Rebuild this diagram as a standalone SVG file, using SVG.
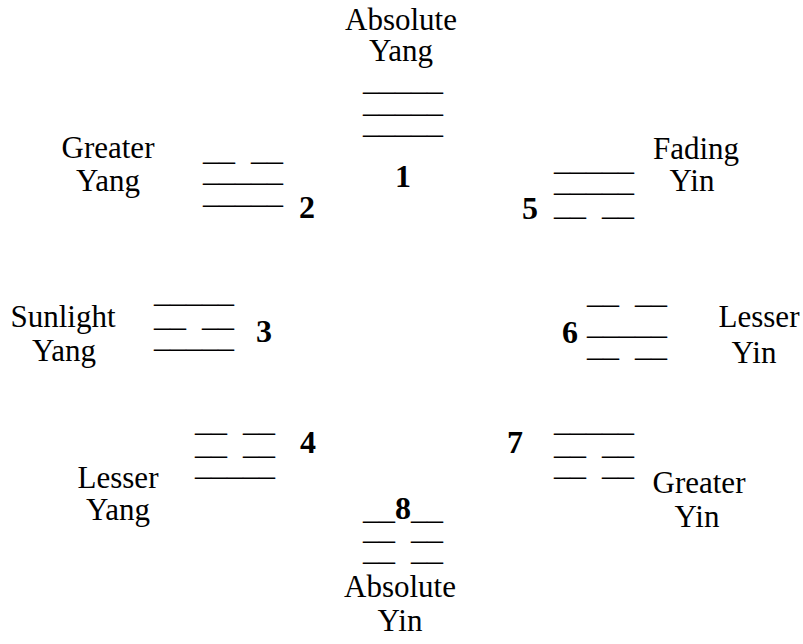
<svg xmlns="http://www.w3.org/2000/svg" width="803" height="644" viewBox="0 0 803 644">
<style>
.lbl{font-family:"Liberation Serif","Times New Roman",serif;font-size:31px;fill:#000;text-anchor:middle}
.bar{font-family:"Liberation Serif","Times New Roman",serif;font-size:32px;fill:#000;white-space:pre}
.num{font-family:"Liberation Serif","Times New Roman",serif;font-size:32px;font-weight:bold;fill:#000}
</style>
<rect width="803" height="644" fill="#fff"/>
<g id="node1">
<text class="lbl" x="401" y="30">Absolute</text>
<text class="lbl" x="401" y="61">Yang</text>
<text class="bar" x="363" y="90">_____</text>
<text class="bar" x="363" y="112">_____</text>
<text class="bar" x="363" y="133">_____</text>
<text class="num" x="395" y="187">1</text>
</g>
<g id="node2">
<text class="lbl" x="108" y="158">Greater</text>
<text class="lbl" x="108" y="191">Yang</text>
<text class="bar" x="203" y="160">__&#160;&#160;__</text>
<text class="bar" x="203" y="181">_____</text>
<text class="bar" x="203" y="203">_____</text>
<text class="num" x="299" y="218">2</text>
</g>
<g id="node5">
<text class="lbl" x="696" y="159">Fading</text>
<text class="lbl" x="692" y="191">Yin</text>
<text class="bar" x="554" y="170">_____</text>
<text class="bar" x="554" y="191">_____</text>
<text class="bar" x="554" y="215">__&#160;&#160;__</text>
<text class="num" x="522" y="219">5</text>
</g>
<g id="node3">
<text class="lbl" x="63" y="327">Sunlight</text>
<text class="lbl" x="64" y="361">Yang</text>
<text class="bar" x="154" y="302">_____</text>
<text class="bar" x="154" y="326">__&#160;&#160;__</text>
<text class="bar" x="154" y="347">_____</text>
<text class="num" x="256" y="342">3</text>
</g>
<g id="node6">
<text class="lbl" x="759" y="327">Lesser</text>
<text class="lbl" x="754" y="363">Yin</text>
<text class="bar" x="587" y="303">__&#160;&#160;__</text>
<text class="bar" x="587" y="334">_____</text>
<text class="bar" x="587" y="356">__&#160;&#160;__</text>
<text class="num" x="562" y="343">6</text>
</g>
<g id="node4">
<text class="lbl" x="118" y="488">Lesser</text>
<text class="lbl" x="118" y="520">Yang</text>
<text class="bar" x="195" y="431">__&#160;&#160;__</text>
<text class="bar" x="195" y="454">__&#160;&#160;__</text>
<text class="bar" x="195" y="475">_____</text>
<text class="num" x="300" y="453">4</text>
</g>
<g id="node7">
<text class="lbl" x="699" y="493">Greater</text>
<text class="lbl" x="697" y="527">Yin</text>
<text class="bar" x="554" y="431">_____</text>
<text class="bar" x="554" y="454">__&#160;&#160;__</text>
<text class="bar" x="554" y="475">__&#160;&#160;__</text>
<text class="num" x="507" y="453">7</text>
</g>
<g id="node8">
<text class="bar" x="363" y="519">__<tspan font-weight="bold">8</tspan>__</text>
<text class="bar" x="363" y="539">__&#160;&#160;__</text>
<text class="bar" x="363" y="560">__&#160;&#160;__</text>
<text class="lbl" x="400" y="597">Absolute</text>
<text class="lbl" x="400" y="631">Yin</text>
</g>
</svg>
